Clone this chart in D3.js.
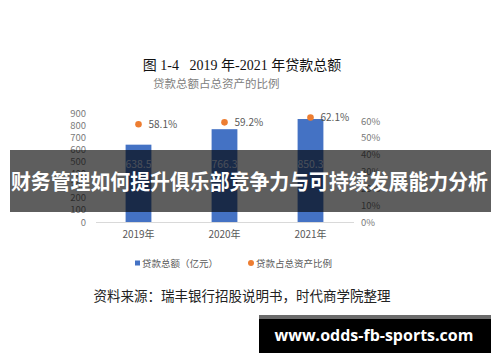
<!DOCTYPE html>
<html>
<head>
<meta charset="utf-8">
<script src="https://cdn.jsdelivr.net/npm/d3@7"></script>
<style>
  body { margin: 0; background: #fff; }
  svg { display: block; }
</style>
</head>
<body>
<div class="chart"></div>
<script>
var years = ["2019年", "2020年", "2021年"];
var loans = [638.5, 766.3, 850.3];
var ratios = [0.581, 0.592, 0.621];
var leftTicks = [0, 100, 200, 300, 400, 500, 600, 700, 800, 900];
var rightTicks = [0, 0.1, 0.2, 0.3, 0.4, 0.5, 0.6];

var w = 500, h = 362;
var cjk = "'Noto Sans CJK SC', 'Noto Sans', sans-serif";
var serif = "'Liberation Serif', 'Noto Sans CJK SC', serif";

var svg = d3.select(".chart").append("svg")
            .attr("width", w)
            .attr("height", h);

var x = d3.scaleBand().domain(years).range([95.5, 353.5])
          .paddingInner(0.7).paddingOuter(0.35);
var yL = d3.scaleLinear().domain([0, 900]).range([222, 113]);
var yR = d3.scaleLinear().domain([0, 0.6]).range([222, 121]);

// titles
svg.append("text")
   .attr("x", 242).attr("y", 70)
   .attr("text-anchor", "middle")
   .style("font-family", serif).style("font-size", "14px")
   .attr("fill", "#111")
   .text("图 1-4\u00a0\u00a0\u00a02019 年-2021 年贷款总额");
svg.append("text")
   .attr("x", 153).attr("y", 88)
   .style("font-family", cjk).style("font-size", "11.5px")
   .attr("fill", "#808080")
   .text("贷款总额占总资产的比例");

// axes
var gl = svg.append("g")
            .attr("transform", "translate(86,0)")
            .call(d3.axisLeft(yL).tickValues(leftTicks).tickSize(0).tickPadding(0));
var gr = svg.append("g")
            .attr("transform", "translate(361,0)")
            .call(d3.axisRight(yR).tickValues(rightTicks).tickSize(0).tickPadding(0)
                  .tickFormat(d3.format(".0%")));
[gl, gr].forEach(function(g) {
  g.select(".domain").remove();
  g.selectAll("text")
   .style("font-family", cjk).style("font-size", "9.5px")
   .attr("fill", "#7a7a7a");
});

var gx = svg.append("g")
            .attr("transform", "translate(0,222)")
            .call(d3.axisBottom(x).tickSize(0).tickPadding(9));
gx.select(".domain").attr("stroke", "#d9d9d9");
gx.selectAll("text")
  .style("font-family", cjk).style("font-size", "10px")
  .attr("fill", "#595959");

// bars
svg.selectAll("rect.bar")
   .data(loans)
   .enter().append("rect")
   .attr("class", "bar")
   .attr("x", function(d, i) { return x(years[i]); })
   .attr("width", x.bandwidth())
   .attr("y", function(d) { return yL(d); })
   .attr("height", function(d) { return yL(0) - yL(d); })
   .attr("fill", "#4472c4");

svg.selectAll("text.barlabel")
   .data(loans)
   .enter().append("text")
   .attr("class", "barlabel")
   .attr("x", function(d, i) { return x(years[i]) + x.bandwidth() / 2; })
   .attr("y", yL(480) + 4)
   .attr("text-anchor", "middle")
   .style("font-family", cjk).style("font-size", "10.5px")
   .attr("fill", "#c9d6f0")
   .text(function(d) { return d.toFixed(1); });

// ratio points
svg.selectAll("circle.pt")
   .data(ratios)
   .enter().append("circle")
   .attr("class", "pt")
   .attr("cx", function(d, i) { return x(years[i]) + x.bandwidth() / 2; })
   .attr("cy", function(d) { return yR(d); })
   .attr("r", 3.3)
   .attr("fill", "#ed7d31");

svg.selectAll("text.ptlabel")
   .data(ratios)
   .enter().append("text")
   .attr("class", "ptlabel")
   .attr("x", function(d, i) { return x(years[i]) + x.bandwidth() / 2 + 10; })
   .attr("y", function(d) { return yR(d) + 4; })
   .style("font-family", cjk).style("font-size", "10px")
   .attr("fill", "#595959")
   .text(function(d) { return (d * 100).toFixed(1) + "%"; });

// legend
svg.append("rect")
   .attr("x", 135).attr("y", 260.5).attr("width", 5).attr("height", 5)
   .attr("fill", "#4472c4");
svg.append("text")
   .attr("x", 142).attr("y", 267)
   .style("font-family", cjk).style("font-size", "9.5px")
   .attr("fill", "#595959")
   .text("贷款总额（亿元）");
svg.append("circle")
   .attr("cx", 251).attr("cy", 263).attr("r", 3)
   .attr("fill", "#ed7d31");
svg.append("text")
   .attr("x", 256).attr("y", 267)
   .style("font-family", cjk).style("font-size", "9.5px")
   .attr("fill", "#595959")
   .text("贷款占总资产比例");

// source
svg.append("text")
   .attr("x", 242).attr("y", 301)
   .attr("text-anchor", "middle")
   .style("font-family", serif).style("font-size", "13.5px")
   .attr("fill", "#222")
   .text("资料来源：瑞丰银行招股说明书，时代商学院整理");

// banner over the chart
svg.append("rect")
   .attr("x", 10).attr("y", 150).attr("width", 481).attr("height", 62)
   .attr("fill", "rgba(0,0,0,0.63)");
svg.append("text")
   .attr("x", 11).attr("y", 189)
   .attr("textLength", 477).attr("lengthAdjust", "spacingAndGlyphs")
   .style("font-family", cjk).style("font-size", "21px").style("font-weight", "bold")
   .attr("fill", "#fff")
   .text("财务管理如何提升俱乐部竞争力与可持续发展能力分析");

// site stamp
svg.append("rect")
   .attr("x", 259).attr("y", 315).attr("width", 232).attr("height", 38)
   .attr("fill", "#000");
svg.append("rect")
   .attr("x", 259).attr("y", 315).attr("width", 232).attr("height", 4)
   .attr("fill", "#6b6b6b");
svg.append("text")
   .attr("x", 374).attr("y", 341)
   .attr("text-anchor", "middle")
   .style("font-family", "'Open Sans', sans-serif").style("font-size", "16px").style("font-weight", "bold")
   .attr("fill", "#fff")
   .text("www.odds-fb-sports.com");
</script>
</body>
</html>
